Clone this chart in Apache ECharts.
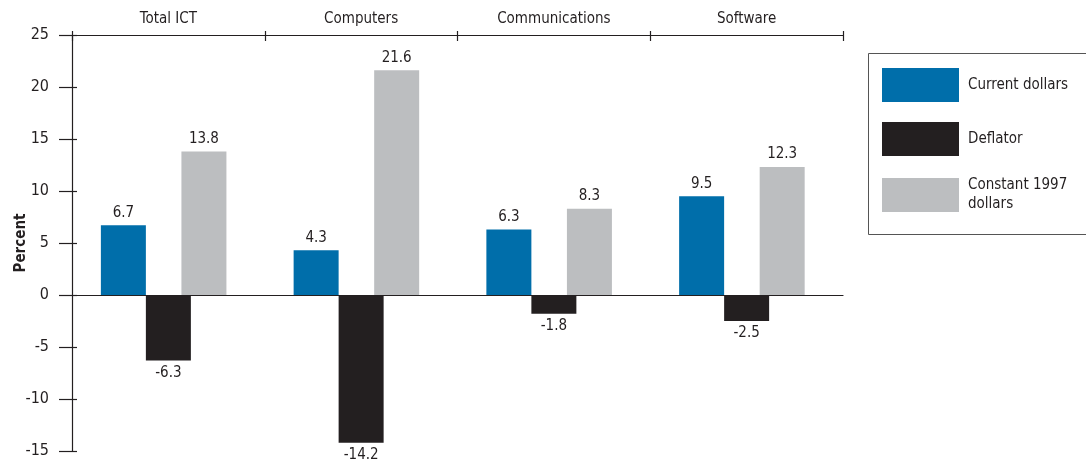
<!DOCTYPE html>
<html>
<head>
<meta charset="utf-8">
<script src="https://cdn.jsdelivr.net/npm/echarts@6/dist/echarts.min.js"></script>
<style>
html,body{margin:0;padding:0;background:#fff;}
#chart{width:1086px;height:468px;}
</style>
</head>
<body>
<div id="chart"></div>
<script>
const categories = ['Total ICT', 'Computers', 'Communications', 'Software'];
const currentDollars = [6.7, 4.3, 6.3, 9.5];
const deflator = [-6.3, -14.2, -1.8, -2.5];
const constant1997 = [13.8, 21.6, 8.3, 12.3];
const seriesNames = ['Current dollars', 'Deflator', 'Constant 1997 dollars'];
const legendLabels = {'Current dollars': 'Current dollars', 'Deflator': 'Deflator', 'Constant 1997 dollars': 'Constant 1997\ndollars'};

const FONT = "'Liberation Sans Narrow', 'DejaVu Sans Condensed', 'Arial Narrow', sans-serif";
const INK = '#231f20';
const BLUE = '#006eaa';
const DARK = '#231f20';
const GREY = '#bcbec0';

const chart = echarts.init(document.getElementById('chart'));
const labelStyle = {show: true, color: INK, fontFamily: FONT, fontSize: 15, distance: 5, formatter: p => p.value.toFixed(1)};

chart.setOption({
  animation: false,
  textStyle: {fontFamily: FONT, color: INK},
  grid: {left: 72, right: 243, top: 35, bottom: 17, containLabel: false, outerBoundsMode: 'none'},
  legend: {
    orient: 'vertical', left: 882, top: 68, padding: 0,
    itemWidth: 77, itemHeight: 34, itemGap: 20,
    icon: 'rect', selectedMode: false,
    data: seriesNames,
    formatter: n => legendLabels[n],
    textStyle: {fontFamily: FONT, fontSize: 15, color: INK, lineHeight: 19, padding: [0, 0, 0, 4]}
  },
  graphic: [{
    type: 'rect', left: 866, top: 51,
    shape: {width: 219, height: 181},
    style: {fill: 'none', stroke: '#555', lineWidth: 1}
  }],
  xAxis: [
    {
      type: 'category', data: categories, position: 'top',
      axisLine: {show: true, onZero: false, lineStyle: {color: INK, width: 1.2}},
      axisTick: {show: true, length: 4, lineStyle: {color: INK, width: 1.2}},
      axisLabel: {show: true, color: INK, fontFamily: FONT, fontSize: 15, margin: 8},
      splitLine: {show: false}
    },
    {
      type: 'category', data: categories, position: 'top',
      axisLine: {show: false, onZero: false},
      axisTick: {show: true, inside: true, length: 6, lineStyle: {color: INK, width: 1.2}},
      axisLabel: {show: false},
      splitLine: {show: false}
    },
    {
      type: 'category', data: categories, position: 'bottom',
      axisLine: {show: true, onZero: true, lineStyle: {color: INK, width: 1.2}},
      axisTick: {show: false},
      axisLabel: {show: false},
      splitLine: {show: false}
    }
  ],
  yAxis: [
    {
      type: 'value', min: -15, max: 25, interval: 5, position: 'left',
      name: 'Percent', nameLocation: 'middle', nameRotate: 90, nameGap: 43, nameMoveOverlap: false,
      nameTextStyle: {fontFamily: FONT, fontSize: 15, fontWeight: 'bold', color: INK},
      axisLine: {show: true, lineStyle: {color: INK, width: 1.2}},
      axisTick: {show: true, length: 13, lineStyle: {color: INK, width: 1.2}},
      axisLabel: {color: INK, fontFamily: FONT, fontSize: 16, margin: 23},
      splitLine: {show: false}
    },
    {
      type: 'value', min: -15, max: 25, interval: 5, position: 'left',
      axisLine: {show: false},
      axisTick: {show: true, inside: true, length: 5, lineStyle: {color: INK, width: 1.2}},
      axisLabel: {show: false},
      splitLine: {show: false}
    }
  ],
  series: [
    {name: seriesNames[0], type: 'bar', xAxisIndex: 1, yAxisIndex: 0, barWidth: 45, barGap: '0%',
     data: currentDollars, itemStyle: {color: BLUE}, label: Object.assign({}, labelStyle, {position: 'top'})},
    {name: seriesNames[1], type: 'bar', xAxisIndex: 1, yAxisIndex: 0, barWidth: 45, barGap: '0%',
     data: deflator, itemStyle: {color: DARK}, label: Object.assign({}, labelStyle, {position: 'bottom'})},
    {name: 'spacerA', type: 'bar', xAxisIndex: 1, yAxisIndex: 0, barWidth: 45, barGap: '0%', silent: true, data: []},
    {name: 'spacerB', type: 'bar', xAxisIndex: 2, yAxisIndex: 0, barWidth: 45, barGap: '58%', silent: true, data: []},
    {name: seriesNames[2], type: 'bar', xAxisIndex: 2, yAxisIndex: 0, barWidth: 45, barGap: '58%',
     data: constant1997, itemStyle: {color: GREY}, label: Object.assign({}, labelStyle, {position: 'top'})}
  ]
});
</script>
</body>
</html>
